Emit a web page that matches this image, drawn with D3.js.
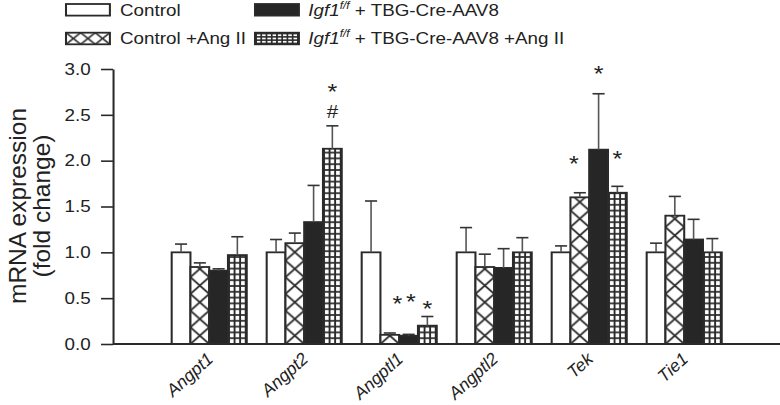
<!DOCTYPE html>
<html><head><meta charset="utf-8">
<script src="https://cdn.jsdelivr.net/npm/d3@7/dist/d3.min.js"></script>
<style>
body{margin:0;background:#fff}
svg{display:block}
text{font-family:Arial,"Liberation Sans",Helvetica,sans-serif;fill:#222}
</style>
</head><body>
<svg id="c"></svg>
<script>
// ---------------- data ----------------
const genes = ["Angpt1","Angpt2","Angptl1","Angptl2","Tek","Tie1"];
const control       = [1.00, 1.00, 1.00, 1.00, 1.00, 1.00];
const controlErr    = [0.09, 0.14, 0.56, 0.27, 0.07, 0.10];
const controlAng    = [0.84, 1.10, 0.10, 0.84, 1.60, 1.40];
const controlAngErr = [0.045,0.11, 0.02, 0.14, 0.05, 0.21];
const igf1          = [0.80, 1.33, 0.09, 0.83, 2.12, 1.14];
const igf1Err       = [0.02, 0.40, 0.015,0.21, 0.61, 0.22];
const igf1Ang       = [0.97, 2.13, 0.20, 1.00, 1.65, 1.00];
const igf1AngErr    = [0.20, 0.25, 0.10, 0.16, 0.07, 0.15];
const yTicks = [0, 0.5, 1.0, 1.5, 2.0, 2.5, 3.0];
const yTickLabels = ["0.0","0.5","1.0","1.5","2.0","2.5","3.0"];
// legend label parts
const legendItalic = ["", "", "Igf1", "Igf1"];
const legendSup    = ["", "", "f/f", "f/f"];
const legendRest   = ["Control", "Control +Ang II", " + TBG-Cre-AAV8", " + TBG-Cre-AAV8 +Ang II"];
// significance marks
const annGene   = ["Angpt2","Angpt2","Angptl1","Angptl1","Angptl1","Tek","Tek","Tek"];
const annSeries = [3, 3, 1, 2, 3, 1, 2, 3];
const annSymbol = ["*","#","*","*","*","*","*","*"];
const annLevel  = [2.67, 2.465, 0.355, 0.38, 0.30, 1.89, 2.865, 1.94];

const values = [control, controlAng, igf1, igf1Ang];
const errors = [controlErr, controlAngErr, igf1Err, igf1AngErr];

// ---------------- layout ----------------
const SX = 1.14;                 // horizontal stretch of the original figure
const W = 780 / SX, H = 405;
const annShift = [0, 0, 6.6, 2.1, 0, -5.1, 0, 0];
const ink = "#2a2a2a";
const FONT = "Arial, 'Liberation Sans', Helvetica, sans-serif";

const svg = d3.select("#c")
  .attr("width", 780).attr("height", 405)
  .attr("viewBox", `0 0 ${W} ${H}`)
  .attr("preserveAspectRatio", "none");
const defs = svg.append("defs");

const axisX = 99.1;
const y = d3.scaleLinear().domain([0, 3]).range([344, 69]);
const x = d3.scaleBand().domain(genes).range([141.85, 641.85])
  .paddingInner(0.21).paddingOuter(0.105);
const xs = d3.scaleBand().domain(d3.range(4)).range([0, x.bandwidth()]).padding(0);
const bw = xs.bandwidth();

// pattern helpers
function crossPattern(id, px, py, w, h, sw) {
  const p = defs.append("pattern").attr("id", id).attr("patternUnits", "userSpaceOnUse")
    .attr("x", px).attr("y", py).attr("width", w).attr("height", h);
  p.append("rect").attr("width", w).attr("height", h).attr("fill", "#fff");
  p.append("line").attr("x1", 0).attr("y1", 0).attr("x2", w).attr("y2", h)
    .attr("stroke", ink).attr("stroke-width", sw);
  p.append("line").attr("x1", w).attr("y1", 0).attr("x2", 0).attr("y2", h)
    .attr("stroke", ink).attr("stroke-width", sw);
}
function gridPattern(id, px, py, w, h, lw) {
  const p = defs.append("pattern").attr("id", id).attr("patternUnits", "userSpaceOnUse")
    .attr("x", px).attr("y", py).attr("width", w).attr("height", h);
  p.append("rect").attr("width", w).attr("height", h).attr("fill", ink);
  p.append("rect").attr("x", lw / 2).attr("y", lw / 2)
    .attr("width", w - lw).attr("height", h - lw).attr("fill", "#fff");
}

// ---------------- bars ----------------
const g = svg.append("g");
genes.forEach((gene, gi) => {
  for (let s = 0; s < 4; s++) {
    const bx = x(gene) + xs(s);
    const v = values[s][gi];
    let fill;
    if (s === 0) fill = "#fff";
    else if (s === 2) fill = "#262626";
    else if (s === 1) {
      const id = `cp${gi}`;
      crossPattern(id, bx, y(0), bw, 16.7, 1.7);
      fill = `url(#${id})`;
    } else {
      const id = `gp${gi}`;
      gridPattern(id, bx + 0.9, y(0), (bw - 1.8) / 3, 5.8, 1.7);
      fill = `url(#${id})`;
    }
    g.append("rect").attr("x", bx).attr("y", y(v))
      .attr("width", bw).attr("height", y(0) - y(v))
      .attr("fill", fill).attr("stroke", ink).attr("stroke-width", 1.8);
  }
});

// error bars
genes.forEach((gene, gi) => {
  for (let s = 0; s < 4; s++) {
    const cx = x(gene) + xs(s) + bw / 2;
    const v = values[s][gi], e = errors[s][gi];
    g.append("line").attr("x1", cx).attr("x2", cx)
      .attr("y1", y(v)).attr("y2", y(v + e))
      .attr("stroke", "#555").attr("stroke-width", 1.4);
    g.append("line").attr("x1", cx - 5.3).attr("x2", cx + 5.3)
      .attr("y1", y(v + e)).attr("y2", y(v + e))
      .attr("stroke", "#333").attr("stroke-width", 1.6);
  }
});

// significance marks (marks over the same bar share one text element)
let prevKey = null, prevText = null;
annGene.forEach((gene, i) => {
  const s = annSeries[i];
  const cx = x(gene) + xs(s) + bw / 2 + annShift[i];
  const key = gene + "|" + s;
  const fs = annSymbol[i] === "*" ? 22 : 18;
  if (key === prevKey && prevText) {
    prevText.append("tspan").attr("x", cx).attr("y", y(annLevel[i]))
      .attr("font-size", fs).text(annSymbol[i]);
  } else {
    prevText = svg.append("text").attr("text-anchor", "middle");
    prevText.append("tspan").attr("x", cx).attr("y", y(annLevel[i]))
      .attr("font-size", fs).text(annSymbol[i]);
  }
  prevKey = key;
});

// ---------------- axes ----------------
const yAxis = svg.append("g").attr("transform", `translate(${axisX},0)`)
  .call(d3.axisLeft(y).tickValues(yTicks).tickFormat((d, i) => yTickLabels[i])
    .tickSize(10.5).tickSizeOuter(0).tickPadding(9));
yAxis.select(".domain").attr("stroke", ink).attr("stroke-width", 1.8);
yAxis.selectAll(".tick line").attr("stroke", ink).attr("stroke-width", 1.6);
yAxis.selectAll(".tick text").attr("font-size", 16.5)
  .attr("font-family", FONT).attr("fill", "#222");

const xAxis = svg.append("g").attr("transform", `translate(0,${y(0)})`)
  .call(d3.axisBottom(x).tickSize(0).tickSizeOuter(0).tickFormat(""));
xAxis.select(".domain").remove();
xAxis.append("line").attr("x1", axisX).attr("x2", W).attr("y1", 0).attr("y2", 0)
  .attr("stroke", ink).attr("stroke-width", 1.8);
// category labels, drawn unstretched and rotated
xAxis.selectAll(".tick").append("text")
  .attr("font-size", 17.5).attr("font-style", "italic").attr("font-family", FONT)
  .attr("fill", "#222").attr("text-anchor", "end")
  .attr("transform", `translate(4.5,16.5) scale(${1 / SX},1) rotate(-42)`)
  .text(d => d);

// y title (unstretched)
svg.append("text").attr("transform", `translate(22.8,206) scale(${1 / SX},1) rotate(-90)`)
  .attr("text-anchor", "middle").attr("font-size", 24.5).text("mRNA expression");
svg.append("text").attr("transform", `translate(44.2,206) scale(${1 / SX},1) rotate(-90)`)
  .attr("text-anchor", "middle").attr("font-size", 24.5).text("(fold change)");

// ---------------- legend ----------------
const legBoxX = [57.9, 57.9, 223.7, 223.7];
const legTextX = [105.3, 105.3, 270.4, 270.4];
const legBoxY = [4, 32.7, 4, 32.7];
const legBase = [16, 44, 16, 44];
const boxW = 38.5, boxH = 11.6;
crossPattern("lcp", legBoxX[1], legBoxY[1], boxW / 3, boxH, 1.6);
gridPattern("lgp", legBoxX[3] + 0.9, legBoxY[3] + 0.9, (boxW - 1.8) / 8, (boxH - 1.8) / 3, 1.5);
const legFill = ["#fff", "url(#lcp)", "#262626", "url(#lgp)"];
for (let i = 0; i < 4; i++) {
  svg.append("rect").attr("x", legBoxX[i]).attr("y", legBoxY[i])
    .attr("width", boxW).attr("height", boxH)
    .attr("fill", legFill[i]).attr("stroke", ink).attr("stroke-width", 1.8);
  const t = svg.append("text").attr("x", legTextX[i]).attr("y", legBase[i]).attr("font-size", 16.5);
  if (legendItalic[i]) {
    t.append("tspan").attr("font-style", "italic").text(legendItalic[i]);
    t.append("tspan").attr("font-style", "italic").attr("font-size", 10.5).attr("dy", -7).text(legendSup[i]);
    t.append("tspan").attr("dy", 7).text(legendRest[i]);
  } else {
    t.text(legendRest[i]);
  }
}
</script>
</body></html>
